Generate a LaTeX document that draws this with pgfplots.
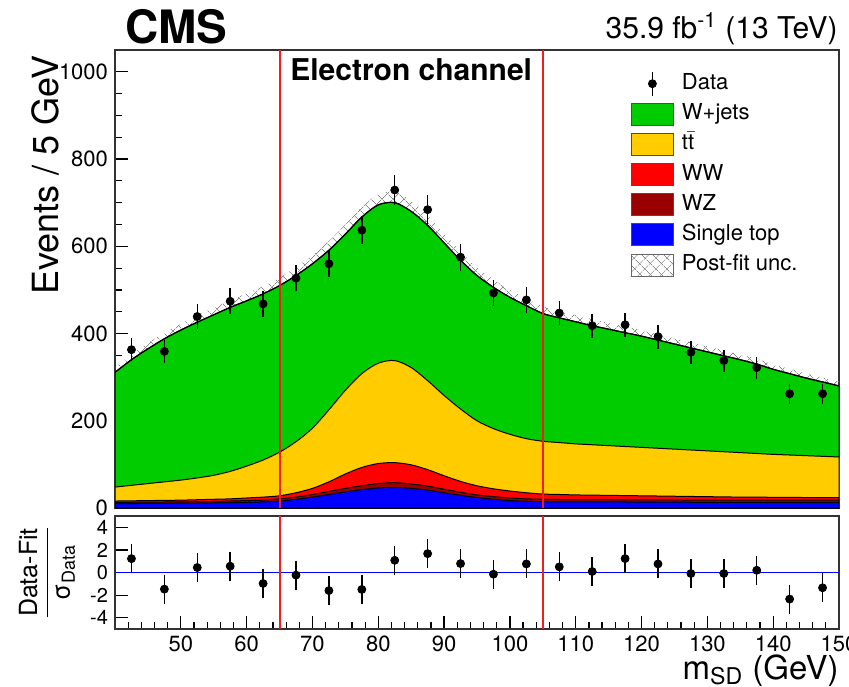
\documentclass[border=0pt]{standalone}
\usepackage{fontspec}
\setmainfont{TeX Gyre Heros}
\usepackage{pgfplots}
\pgfplotsset{compat=1.18}
\usepackage{pgfplotstable}
\usepgfplotslibrary{fillbetween}
\usetikzlibrary{patterns,patterns.meta}

\definecolor{cgreen}{RGB}{0,204,0}
\definecolor{cyellow}{RGB}{255,204,0}
\definecolor{cred}{RGB}{255,0,0}
\definecolor{cdred}{RGB}{153,0,0}
\definecolor{cblue}{RGB}{0,0,255}
\definecolor{cline}{RGB}{240,30,30}

\tikzset{
  hatchA/.style={pattern={Lines[angle=45, distance=4pt, line width=0.4pt]}, pattern color=black!45},
  hatchB/.style={pattern={Lines[angle=-45, distance=4pt, line width=0.4pt]}, pattern color=black!45},
}

\pgfplotstableread{
x tot up lo tt ww wz st
40 311 322 303 48 16 13 10
42.5 340 352 332 52 16.5 13.2 10.2
45 365 378 356 56 17 13.5 10.5
47.5 388 402 378 60 17.5 13.8 10.8
50 408 422 398 64 18 14 11
52.5 426 441 415 69 19 14.5 11.5
55 443 459 432 75 20 15 12
57.5 460 476 449 84 21 16 12.5
60 475 492 463 96 23 17 13
62.5 491 508 479 110 25 18 14
65 510 528 497 128 28 21 16
67.5 533 552 520 152 35 25 20
70 560 580 546 183 45 31 25
72.5 591 612 576 225 60 38 31
75 628 650 612 270 78 45 37
77.5 667 690 650 308 93 51 42
80 695 719 678 332 102 56 46
82.5 700 725 683 338 104 58 47
85 680 704 663 322 99 55 45
87.5 648 671 632 292 88 50 41
90 608 629 593 258 74 43 35
92.5 568 588 554 227 61 36 29
95 533 552 520 200 51 30 24
97.5 506 524 493 182 44 26 20
100 483 500 471 169 39 23 17
102.5 464 480 452 159 35 21 15.5
105 446 462 435 153 32 20 14.5
107.5 436 451 425 150 31 19.5 14.2
110 427 442 416 147 30 19 14
112.5 418 433 408 145 29.5 19 14
115 410 424 400 143 29 19 14
117.5 402 416 392 141 28.5 18.8 13.8
120 394 408 384 139 28 18.5 13.5
122.5 385 398 375 137 27.5 18.5 13.5
125 376 389 367 135 27 18.5 13.5
127.5 367 380 358 133 26.5 18.2 13.2
130 358 371 349 131 26 18 13
132.5 349 361 340 129 25.5 18 13
135 340 352 332 127 25 18 13
137.5 330 342 322 125 25 18 13
140 318 329 310 123 24.5 18 13
142.5 308 319 300 121.5 24.5 18 13
145 298 308 291 120 24 18 13
147.5 289 299 282 118.5 24 18 13
150 280 290 273 117 24 18 13
}\bkg

\pgfplotstableread{
x y e r
42.5 363 19 1.23
47.5 359 19 -1.47
52.5 439 21 0.44
57.5 474 22 0.56
62.5 468 22 -0.97
67.5 527 23 -0.23
72.5 560 24 -1.60
77.5 637 25 -1.50
82.5 729 27 1.08
87.5 684 26 1.67
92.5 575 24 0.79
97.5 493 22 -0.15
102.5 477 22 0.76
107.5 447 21 0.50
112.5 418 20 0.09
117.5 420 20 1.23
122.5 393 20 0.76
127.5 357 19 -0.09
132.5 338 18 -0.09
137.5 322 18 0.20
142.5 262 16 -2.35
147.5 262 16 -1.35
}\data

\pgfplotsset{
  cmsaxis/.style={
    scale only axis, width=362pt, xmin=40, xmax=150,
    axis line style={line width=0.8pt, black!80},
    tick align=inside, tick pos=left,
    xtick={50,60,...,150}, minor xtick={42,44,...,148},
    major tick length=6.5pt, minor tick length=3.5pt,
    tick style={line width=0.6pt, black},
    ticklabel style={font=\fontsize{11}{13}\selectfont},
    /pgf/number format/assume math mode=true,
    /pgf/number format/set thousands separator={},
  },
  boxlegend/.style={legend image code/.code={\draw[##1] (0pt,-5.5pt) rectangle (21pt,5.5pt);}},
  layer/.style={smooth, draw=black, line width=0.5pt, forget plot},
  datapts/.style={only marks, mark=*, black, mark size=2pt, forget plot,
    error bars/.cd, y dir=both, y explicit,
    error bar style={line width=0.7pt, black},
    error mark options={line width=0.7pt, mark size=1.6pt, black}},
  vline/.style={draw=cline, line width=0.9pt, forget plot},
}

\begin{document}
\begin{tikzpicture}
\begin{axis}[cmsaxis, name=top, at={(0,0)}, anchor=north west, height=229pt,
  ymin=0, ymax=1050, ytick={0,200,...,1000}, minor y tick num=3,
  xticklabel=\empty,
  legend cell align=left,
  legend style={at={(axis description cs:0.712,0.955)}, anchor=north west, draw=none, fill=none,
    font=\fontsize{11}{13}\selectfont, row sep=2.6pt, column sep=3pt, inner sep=0pt,
    nodes={inner sep=1pt, text height=8pt, text depth=2.5pt}},
]
\addlegendimage{legend image code/.code={\draw[black, line width=0.7pt] (10.5pt,-6pt)--(10.5pt,6pt); \fill[black] (10.5pt,0pt) circle (2pt);}}
\addlegendentry{Data}
\addlegendimage{boxlegend, fill=cgreen, draw=black!70, line width=0.5pt}
\addlegendentry{W+jets}
\addlegendimage{boxlegend, fill=cyellow, draw=black!70, line width=0.5pt}
\addlegendentry{t$\bar{\mbox{t}}$}
\addlegendimage{boxlegend, fill=cred, draw=black!70, line width=0.5pt}
\addlegendentry{WW}
\addlegendimage{boxlegend, fill=cdred, draw=black!70, line width=0.5pt}
\addlegendentry{WZ}
\addlegendimage{boxlegend, fill=cblue, draw=black!70, line width=0.5pt}
\addlegendentry{Single top}
\addlegendimage{legend image code/.code={\fill[hatchA] (0pt,-5.5pt) rectangle (21pt,5.5pt); \fill[hatchB] (0pt,-5.5pt) rectangle (21pt,5.5pt); \draw[black!60, line width=0.5pt] (0pt,-5.5pt) rectangle (21pt,5.5pt);}}
\addlegendentry{Post-fit unc.}

\addplot[smooth, draw=none, name path=up, forget plot] table[x=x, y=up] {\bkg};
\addplot[smooth, draw=none, name path=lo, forget plot] table[x=x, y=lo] {\bkg};
\addplot[hatchA, forget plot] fill between[of=up and lo];
\addplot[hatchB, forget plot] fill between[of=up and lo];

\addplot[layer, fill=cgreen] table[x=x, y=tot] {\bkg} \closedcycle;
\addplot[layer, fill=cyellow] table[x=x, y=tt] {\bkg} \closedcycle;
\addplot[layer, fill=cred] table[x=x, y=ww] {\bkg} \closedcycle;
\addplot[layer, fill=cdred] table[x=x, y=wz] {\bkg} \closedcycle;
\addplot[layer, fill=cblue] table[x=x, y=st] {\bkg} \closedcycle;
\addplot[smooth, black, line width=0.6pt, forget plot] table[x=x, y=tot] {\bkg};

\addplot[vline] coordinates {(65.08,0) (65.08,1050)};
\addplot[vline] coordinates {(105,0) (105,1050)};

\addplot[datapts] table[x=x, y=y, y error=e] {\data};

\node[anchor=base, font=\bfseries\fontsize{15}{18}\selectfont] at (axis cs:85,981) {Electron channel};
\end{axis}

\begin{axis}[cmsaxis, name=bot, at={(0,-233pt)}, anchor=north west, height=56.5pt,
  ymin=-5, ymax=5, ytick={-4,-2,0,2,4},
  yticklabel style={font=\fontsize{10}{12}\selectfont},
]
\addplot[blue, line width=0.4pt, forget plot] coordinates {(40,0) (150,0)};
\addplot[vline] coordinates {(65.08,-5) (65.08,5)};
\addplot[vline] coordinates {(105,-5) (105,5)};
\addplot[datapts] table[x=x, y=r, y error expr=1] {\data};
\end{axis}

\node[anchor=base west, font=\bfseries\fontsize{23}{27}\selectfont, inner sep=0pt] at ([xshift=5pt,yshift=3.5pt]top.north west) {CMS};
\node[anchor=base east, font=\fontsize{15}{18}\selectfont, inner sep=0pt] at ([xshift=-0.5pt,yshift=6pt]top.north east) {35.9 fb\textsuperscript{-1} (13 TeV)};
\node[rotate=90, anchor=south east, inner sep=0pt, font=\fontsize{18}{21}\selectfont] at (-27.5pt,-2.5pt) {Events / 5 GeV};
\node[rotate=90, inner sep=0pt, font=\fontsize{12.5}{15}\selectfont] at ([xshift=-34pt]bot.west) {$\displaystyle\frac{\mbox{Data-Fit}}{\mbox{σ}_{\mbox{\fontsize{9}{10}\selectfont Data}}}$};
\node[anchor=base east, inner sep=0pt, font=\fontsize{16.5}{19}\selectfont] at ([yshift=-25pt]bot.south east) {m\textsubscript{SD} (GeV)};

\pgfresetboundingbox
\path (-57.5pt,25pt) rectangle (367pt,-318pt);
\end{tikzpicture}
\end{document}
